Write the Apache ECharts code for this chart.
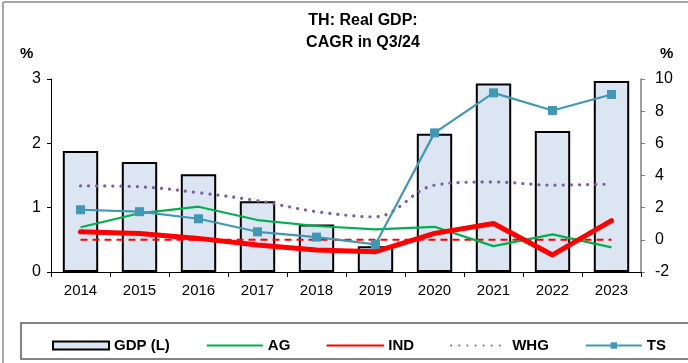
<!DOCTYPE html>
<html>
<head>
<meta charset="utf-8">
<script src="https://cdn.jsdelivr.net/npm/echarts@6/dist/echarts.min.js"></script>
<style>
  html, body { margin: 0; padding: 0; background: #fff; }
  #chart { width: 688px; height: 363px; }
</style>
</head>
<body>
<div id="chart"></div>
<script>
// Years on the category axis
const years = ['2014', '2015', '2016', '2017', '2018', '2019', '2020', '2021', '2022', '2023'];

// Real GDP CAGR, left axis (%)
const gdp = [1.88, 1.71, 1.52, 1.10, 0.74, 0.40, 2.15, 2.93, 2.19, 2.97];

// Sector growth, right axis (%)
const ag  = [0.78, 1.65, 2.06, 1.23, 0.86, 0.65, 0.81, -0.39, 0.34, -0.47];
const ind = [0.50, 0.40, 0.09, -0.32, -0.63, -0.74, 0.40, 1.02, -0.94, 1.19];
const whg = [3.36, 3.30, 2.93, 2.43, 1.75, 1.43, 3.40, 3.60, 3.40, 3.47];
const ts  = [1.87, 1.75, 1.31, 0.50, 0.17, -0.28, 6.65, 9.14, 8.04, 9.04];

// Zero reference for industry
const indRef = years.map(() => 0);

// Axis tick ranges
const leftTicks = { min: 0, max: 3, interval: 1 };
const rightTicks = { min: -2, max: 10, interval: 2 };

const FONT = '"Liberation Sans", Arial, sans-serif';
const noMarker = { color: 'transparent', borderWidth: 0 };

const chart = echarts.init(document.getElementById('chart'), null, { renderer: 'canvas' });

chart.setOption({
  animation: false,
  backgroundColor: '#ffffff',
  textStyle: { fontFamily: FONT },
  title: {
    text: 'TH: Real GDP:\nCAGR in Q3/24',
    left: 358,
    textAlign: 'center',
    top: 5,
    textStyle: { fontFamily: FONT, fontSize: 16, fontWeight: 'bold', color: '#000', lineHeight: 22 }
  },
  graphic: [
    { type: 'line', shape: { x1: 3, y1: 2, x2: 688, y2: 2 }, style: { stroke: '#a6a6a6', lineWidth: 2 } },
    { type: 'line', shape: { x1: 3, y1: 2, x2: 3, y2: 363 }, style: { stroke: '#a6a6a6', lineWidth: 2 } },
    { type: 'rect', shape: { x: 21, y: 323, width: 700, height: 36 }, style: { fill: 'none', stroke: '#595959', lineWidth: 1.5 } },
    { type: 'text', left: 20, top: 46, style: { text: '%', font: 'bold 15px ' + FONT, fill: '#000' } },
    { type: 'text', left: 660, top: 46, style: { text: '%', font: 'bold 15px ' + FONT, fill: '#000' } }
  ],
  legend: {
    left: 47,
    top: 333,
    itemWidth: 56,
    itemHeight: 8,
    itemGap: 36,
    data: [
      { name: 'GDP (L)', icon: 'rect' },
      { name: 'AG', itemStyle: noMarker },
      { name: 'IND', itemStyle: noMarker },
      { name: 'WHG', itemStyle: noMarker },
      { name: 'TS' }
    ],
    textStyle: { fontFamily: FONT, fontSize: 15, fontWeight: 'bold', color: '#000' }
  },
  grid: { left: 51, right: 47, top: 79, bottom: 91 },
  xAxis: {
    type: 'category',
    data: years,
    boundaryGap: true,
    axisLine: { lineStyle: { color: '#000', width: 1 } },
    axisTick: { show: true, inside: false, length: 5, alignWithLabel: false, lineStyle: { color: '#000' } },
    axisLabel: { color: '#000', fontSize: 15, margin: 11, fontFamily: FONT }
  },
  yAxis: [
    {
      type: 'value',
      min: leftTicks.min, max: leftTicks.max, interval: leftTicks.interval,
      splitLine: { show: false },
      axisLine: { show: true, lineStyle: { color: '#000', width: 1 } },
      axisTick: { show: true, length: 4, lineStyle: { color: '#000' } },
      axisLabel: { color: '#000', fontSize: 16, margin: 10, fontFamily: FONT }
    },
    {
      type: 'value',
      min: rightTicks.min, max: rightTicks.max, interval: rightTicks.interval,
      position: 'right',
      splitLine: { show: false },
      axisLine: { show: true, lineStyle: { color: '#808080', width: 1.5 } },
      axisTick: { show: true, length: 4, lineStyle: { color: '#808080' } },
      axisLabel: { color: '#000', fontSize: 16, margin: 14, fontFamily: FONT }
    }
  ],
  series: [
    {
      name: 'GDP (L)',
      type: 'bar',
      yAxisIndex: 0,
      data: gdp,
      barCategoryGap: '40%',
      itemStyle: { color: '#dce6f2', borderColor: '#000', borderWidth: 2 },
      z: 1
    },
    {
      name: 'IND ref',
      type: 'line',
      yAxisIndex: 1,
      data: indRef,
      symbol: 'none',
      lineStyle: { color: '#ff0000', width: 2, type: [7, 5] },
      z: 2
    },
    {
      name: 'AG',
      type: 'line',
      yAxisIndex: 1,
      data: ag,
      symbol: 'none',
      lineStyle: { color: '#00b050', width: 2.2 },
      itemStyle: { color: '#00b050' },
      z: 3
    },
    {
      name: 'IND',
      type: 'line',
      yAxisIndex: 1,
      data: ind,
      symbol: 'none',
      lineStyle: { color: '#ff0000', width: 5, cap: 'round', join: 'round' },
      itemStyle: { color: '#ff0000' },
      z: 4
    },
    {
      name: 'WHG',
      type: 'line',
      yAxisIndex: 1,
      data: whg,
      symbol: 'none',
      smooth: 0.35,
      lineStyle: { color: '#7d5fa0', width: 3.2, type: [0.1, 8], cap: 'round' },
      itemStyle: { color: '#7d5fa0' },
      z: 3
    },
    {
      name: 'TS',
      type: 'line',
      yAxisIndex: 1,
      data: ts,
      symbol: 'rect',
      symbolSize: 9,
      lineStyle: { color: '#4198b4', width: 2.2 },
      itemStyle: { color: '#4198b4' },
      z: 5
    }
  ]
});
</script>
</body>
</html>
